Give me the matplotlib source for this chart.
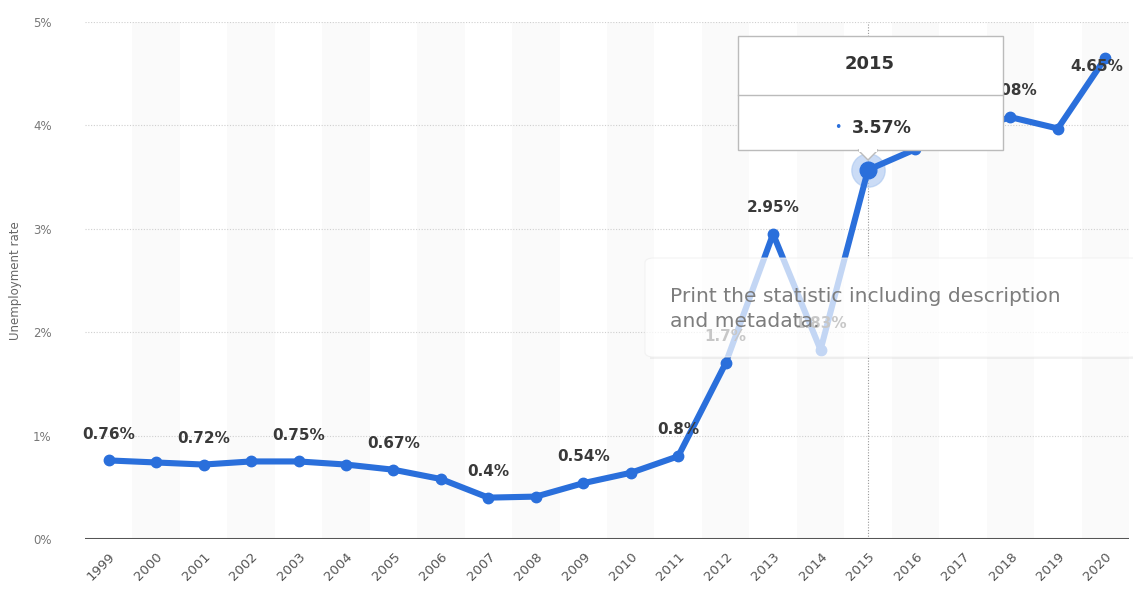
import matplotlib
matplotlib.use("Agg")
import matplotlib.pyplot as plt
from matplotlib.patches import FancyBboxPatch, Rectangle, Polygon
import numpy as np

years = [1999, 2000, 2001, 2002, 2003, 2004, 2005, 2006, 2007, 2008, 2009,
         2010, 2011, 2012, 2013, 2014, 2015, 2016, 2017, 2018, 2019, 2020]
rates = [0.76, 0.74, 0.72, 0.75, 0.75, 0.72, 0.67, 0.58, 0.40, 0.41, 0.54,
         0.64, 0.80, 1.70, 2.95, 1.83, 3.57, 3.77, 3.93, 4.08, 3.97, 4.65]
labeled_years = [1999, 2001, 2003, 2005, 2007, 2009, 2011, 2012, 2013, 2014, 2018, 2020]
y_ticks = [0, 1, 2, 3, 4, 5]
y_label = "Unemployment rate"
highlight_year = 2015
tooltip_title = "2015"
tooltip_value = "3.57%"
print_note = "Print the statistic including description\nand metadata."

W, H = 1133, 595
fig = plt.figure(figsize=(W / 100, H / 100), dpi=100)
ax = fig.add_axes([85 / W, 1 - 539 / H, (1129 - 85) / W, (539 - 22) / H])

blue = "#2a6fdb"
x = np.arange(len(years))
ax.set_xlim(-0.5, len(years) - 0.5)
ax.set_ylim(0, 5)

# alternating column bands
for i in range(len(years)):
    if i % 2 == 1:
        ax.axvspan(i - 0.5, i + 0.5, color="#fafafa", zorder=0, lw=0)

# grid
for t in y_ticks[1:]:
    ax.axhline(t, color="#cfcfcf", lw=0.8, ls=(0, (1, 1.5)), zorder=1)
ax.axhline(0, color="#555555", lw=2.2, zorder=2)

for s in ax.spines.values():
    s.set_visible(False)

ax.set_yticks(y_ticks)
ax.set_yticklabels([f"{t}%" for t in y_ticks], color="#777777", fontsize=8.5)
ax.tick_params(axis="y", length=0, pad=24)
ax.set_xticks(x)
ax.set_xticklabels([str(y) for y in years], rotation=45, ha="right",
                   rotation_mode="anchor", color="#555555", fontsize=9.5)
ax.tick_params(axis="x", length=0, pad=8)
ax.set_ylabel(y_label, color="#666666", fontsize=8.5, labelpad=8)

# crosshair
hi = years.index(highlight_year)
ax.axvline(hi, color="#999999", lw=0.8, ls=(0, (1, 1.5)), zorder=1)

# line
ax.plot(x, rates, color=blue, lw=4.4, marker="o", ms=7.5, zorder=4,
        solid_capstyle="round")
ax.plot([hi], [rates[hi]], "o", ms=24, color="#a9c6f0", alpha=0.6, zorder=3)
ax.plot([hi], [rates[hi]], "o", ms=12, color=blue, zorder=5)

# data labels
for yr in labeled_years:
    i = years.index(yr)
    off = (-6, -6) if i == len(years) - 1 else (0, 19)
    ax.annotate(f"{rates[i]:g}%", (i, rates[i]), xytext=off,
                textcoords="offset points", ha="center", va="center",
                fontsize=11, fontweight="bold", color="#3a3a3a", zorder=6)

# "print" overlay (semi-transparent)
sh = Rectangle((650 / W, 1 - 359 / H), (1140 - 650) / W, 2.5 / H,
               transform=fig.transFigure, facecolor="#000000", alpha=0.05,
               edgecolor="none", zorder=9)
fig.patches.append(sh)
ov = FancyBboxPatch((645 / W, 1 - 357 / H), (1140 - 645) / W, (357 - 258) / H,
                    boxstyle="round,pad=0,rounding_size=0.008",
                    transform=fig.transFigure, facecolor="white", alpha=0.72,
                    edgecolor="#eeeeee", lw=0.8, zorder=10)
fig.patches.append(ov)
fig.text(670 / W, 1 - 309 / H, print_note, fontsize=14.6, color="#7d7d7d",
         va="center", ha="left", linespacing=1.4, zorder=11)

# tooltip
tb = Rectangle((738 / W, 1 - 150 / H), (1003 - 738) / W, (150 - 36) / H,
               transform=fig.transFigure, facecolor="white",
               edgecolor="#bbbbbb", lw=1.0, zorder=12)
fig.patches.append(tb)
tri = Polygon([(858 / W, 1 - 150 / H), (878 / W, 1 - 150 / H), (868 / W, 1 - 160 / H)],
              closed=True, transform=fig.transFigure, facecolor="white",
              edgecolor="#bbbbbb", lw=1.0, zorder=12)
fig.patches.append(tri)
fig.patches.append(Rectangle((859 / W, 1 - 151.5 / H), 18 / W, 3 / H,
                             transform=fig.transFigure, facecolor="white",
                             edgecolor="none", zorder=13))
fig.lines.append(plt.Line2D([738 / W, 1003 / W], [1 - 95 / H, 1 - 95 / H],
                            transform=fig.transFigure, color="#bbbbbb",
                            lw=1.0, zorder=13))
fig.text(870 / W, 1 - 64 / H, tooltip_title, fontsize=13, fontweight="bold",
         color="#333333", ha="center", va="center", zorder=14)
fig.text(882 / W, 1 - 128 / H, tooltip_value, fontsize=12.5, fontweight="bold",
         color="#333333", ha="center", va="center", zorder=14)
fig.text(838 / W, 1 - 128 / H, "•", fontsize=9, color=blue,
         ha="center", va="center", zorder=14)

fig.savefig("out.png", dpi=100)
